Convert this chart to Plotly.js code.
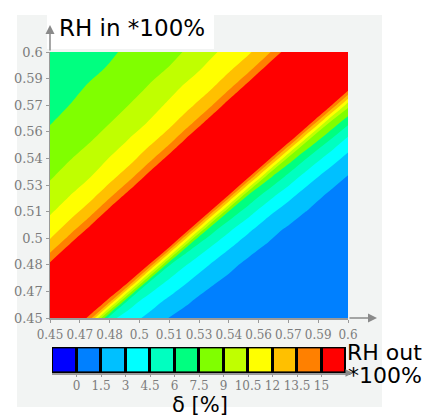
<!DOCTYPE html>
<html><head><meta charset="utf-8">
<script src="https://cdn.plot.ly/plotly-3.0.1.min.js"></script>
<style>html,body{margin:0;padding:0;background:#fff}</style>
</head><body><div id="chart" style="width:429px;height:417px"></div>
<script>
// RH out (x) and RH in (y) grid, *100%
const rhOut = [0.45,0.46,0.47,0.48,0.49,0.50,0.51,0.52,0.53,0.54,0.55,0.56,0.57,0.58,0.59,0.60];
const rhIn  = [0.45,0.46,0.47,0.48,0.49,0.50,0.51,0.52,0.53,0.54,0.55,0.56,0.57,0.58,0.59,0.60];
// delta [%], one row per RH in value (bottom to top), columns follow RH out
const delta = [
  [18,17.5,14.5,5.0,3.6,2.6,1.45,1.1,0.9,0.8,0.7,0.6,0.6,0.6,0.6,0.6],
  [18,18,17.5,14.6,5.4,3.8,2.7,1.6,1.1,0.9,0.8,0.7,0.6,0.6,0.6,0.6],
  [17,18,18,17.5,14.8,5.8,4.1,2.9,1.7,1.2,0.9,0.8,0.7,0.6,0.6,0.6],
  [15.4,17,18,18,17.5,14.9,6.1,4.3,3.02,1.8,1.2,0.9,0.8,0.7,0.6,0.6],
  [12.6,15.5,17,18,18,17.5,15.1,6.5,4.6,3.2,1.9,1.3,1.0,0.8,0.7,0.6],
  [11.3,12.7,15.5,17,18,18,17.5,15.2,6.9,4.8,3.3,2.0,1.3,1.0,0.8,0.75],
  [10.3,11.4,12.7,15.6,17,18,18,17.5,15.3,7.3,5.1,3.4,2.2,1.4,1.0,0.85],
  [9.6,10.4,11.4,12.8,15.6,17,18,18,17.5,15.5,7.6,5.3,3.6,2.3,1.4,1.0],
  [8.8,9.7,10.4,11.5,12.8,15.7,17,18,18,17.5,15.6,8.0,5.6,3.7,2.4,1.45],
  [8.3,8.9,9.8,10.55,11.5,12.9,15.7,17,18,18,17.5,15.7,8.4,5.8,3.9,2.5],
  [7.9,8.4,8.9,9.8,10.6,11.6,12.9,15.8,17,18,18,17.5,15.9,8.8,6.1,4.0],
  [7.45,7.9,8.4,8.97,9.9,10.6,11.6,13.0,15.8,17,18,18,17.5,16.0,9.1,6.3],
  [7.2,7.51,8.0,8.45,9.03,10.0,10.7,11.7,13.0,15.9,17,18,18,17.5,16.2,9.5],
  [7.0,7.25,7.6,8.0,8.5,9.1,10.1,10.8,11.7,13.1,15.9,17,18,18,17.5,16.3],
  [6.85,7.05,7.3,7.6,8.1,8.6,9.1,10.1,10.8,11.8,13.1,16.0,17,18,18,17.5],
  [6.7,6.9,7.1,7.35,7.7,8.1,8.6,9.2,10.2,10.9,11.8,13.2,16.0,17,18,18]
];
const axisTickVals = [0.45,0.465,0.48,0.495,0.51,0.525,0.54,0.555,0.57,0.585,0.6];
const axisTickText = ['0.45','0.47','0.48','0.5','0.51','0.53','0.54','0.56','0.57','0.59','0.6'];
const levelTicks  = [0,1.5,3,4.5,6,7.5,9,10.5,12,13.5,15];
const levelLabels = ['0','1.5','3','4.5','6','7.5','9','10.5','12','13.5','15'];
const bandMid = [-0.75,0.75,2.25,3.75,5.25,6.75,8.25,9.75,11.25,12.75,14.25,15.75];
const bandColors = ['#0000ff','#0080ff','#00c0ff','#00ffff','#00ffc0','#00ff80','#80ff00','#c0ff00','#ffff00','#ffc000','#ff8000','#ff0000'];

const cscale = bandColors.map((c,k)=>[k/(bandColors.length-1), c]);
const tickGray = '#7c7c7c';
const axisGray = '#9a9a9a';

const traces = [
  {
    type:'contour', x: rhOut, y: rhIn, z: delta,
    autocontour:false,
    contours:{start:levelTicks[0], end:levelTicks[levelTicks.length-1], size:1.5, coloring:'fill', showlines:false},
    line:{width:0},
    colorscale: cscale, showscale:false, hoverinfo:'skip',
    xaxis:'x', yaxis:'y'
  },
  {
    type:'heatmap', x: bandMid, y:[0], z:[bandMid],
    zmin: bandMid[0], zmax: bandMid[bandMid.length-1],
    colorscale: cscale, showscale:false, xgap:3, hoverinfo:'skip',
    xaxis:'x2', yaxis:'y2'
  }
];

const P = {l:50, r:81, t:15, b:10, W:429, H:417};
const pw = P.W-P.l-P.r, ph = P.H-P.t-P.b;
const px = v => (v-P.l)/pw;
const py = v => (P.H-P.b-v)/ph;

const layout = {
  width:P.W, height:P.H,
  margin:{l:P.l, r:P.r, t:P.t, b:P.b, pad:0},
  paper_bgcolor:'#ffffff', plot_bgcolor:'rgba(0,0,0,0)',
  showlegend:false,
  xaxis:{domain:[0,1], range:[0.45,0.6], tickmode:'array', tickvals:axisTickVals, ticktext:axisTickText,
    showline:true, linecolor:axisGray, linewidth:1.5, ticks:'outside', ticklen:3, tickwidth:1, tickcolor:axisGray,
    ticklabelstandoff:2,
    showgrid:false, zeroline:false, tickfont:{family:'DejaVu Serif', size:12, color:tickGray}, anchor:'y', fixedrange:true},
  yaxis:{domain:[py(318), py(52)], range:[0.45,0.6], tickmode:'array', tickvals:axisTickVals, ticktext:axisTickText,
    showline:true, linecolor:axisGray, linewidth:1.5, ticks:'outside', ticklen:3, tickwidth:1, tickcolor:axisGray,
    showgrid:false, zeroline:false, tickfont:{family:'DejaVu Serif', size:13, color:tickGray}, anchor:'x', fixedrange:true},
  xaxis2:{domain:[px(52), px(346)], range:[-1.5,16.5], tickmode:'array', tickvals:levelTicks, ticktext:levelLabels,
    showline:true, linecolor:axisGray, linewidth:1.5, ticks:'outside', ticklen:2, tickcolor:axisGray,
    ticklabelstandoff:-1,
    showgrid:false, zeroline:false, tickfont:{family:'DejaVu Serif', size:12, color:tickGray}, anchor:'y2', fixedrange:true},
  yaxis2:{domain:[py(373), py(347)], range:[-0.56,0.56], visible:false, anchor:'x2', fixedrange:true},
  shapes:[
    {type:'rect', xref:'paper', yref:'paper', x0:px(17), x1:px(382), y0:py(407), y1:py(15),
     fillcolor:'#f2f4f3', line:{width:0}, layer:'below'},
    {type:'rect', xref:'paper', yref:'paper', x0:px(47), x1:px(214), y0:py(49), y1:py(0),
     fillcolor:'#ffffff', line:{width:0}, layer:'below'},
    {type:'rect', xref:'x2', yref:'y2 domain', x0:-1.5, x1:16.5, y0:0, y1:1,
     fillcolor:'#000000', line:{width:0}, layer:'below'}
  ],
  annotations:[
    {xref:'paper', yref:'paper', x:px(57), y:py(28), xanchor:'left', yanchor:'middle', showarrow:false,
     text:'RH in *100%', font:{family:'DejaVu Sans', size:23, color:'#000'}},
    {xref:'paper', yref:'paper', x:px(345), y:py(352), xanchor:'left', yanchor:'middle', showarrow:false,
     text:'RH out', font:{family:'DejaVu Sans', size:22, color:'#000'}},
    {xref:'paper', yref:'paper', x:px(346), y:py(375), xanchor:'left', yanchor:'middle', showarrow:false,
     text:'*100%', font:{family:'DejaVu Sans', size:22, color:'#000'}},
    {xref:'paper', yref:'paper', x:px(200), y:py(405), xanchor:'center', yanchor:'middle', showarrow:false,
     borderpad:0, text:'δ [%]', font:{family:'DejaVu Sans', size:21, color:'#000'}},
    {xref:'paper', yref:'paper', x:px(50), y:py(25), ax:0, ay:27, showarrow:true, text:'',
     arrowhead:2, arrowsize:1.2, arrowwidth:1.5, arrowcolor:'#8a8a8a'},
    {xref:'paper', yref:'paper', x:px(377), y:py(318), ax:-29, ay:0, showarrow:true, text:'',
     arrowhead:2, arrowsize:1.2, arrowwidth:1.5, arrowcolor:'#8a8a8a'},
    {xref:'paper', yref:'paper', x:px(353), y:py(373), ax:-7, ay:0, showarrow:true, text:'',
     arrowhead:2, arrowsize:1, arrowwidth:1.5, arrowcolor:'#8a8a8a'}
  ]
};

Plotly.newPlot('chart', traces, layout, {staticPlot:true, displayModeBar:false});
</script></body></html>
